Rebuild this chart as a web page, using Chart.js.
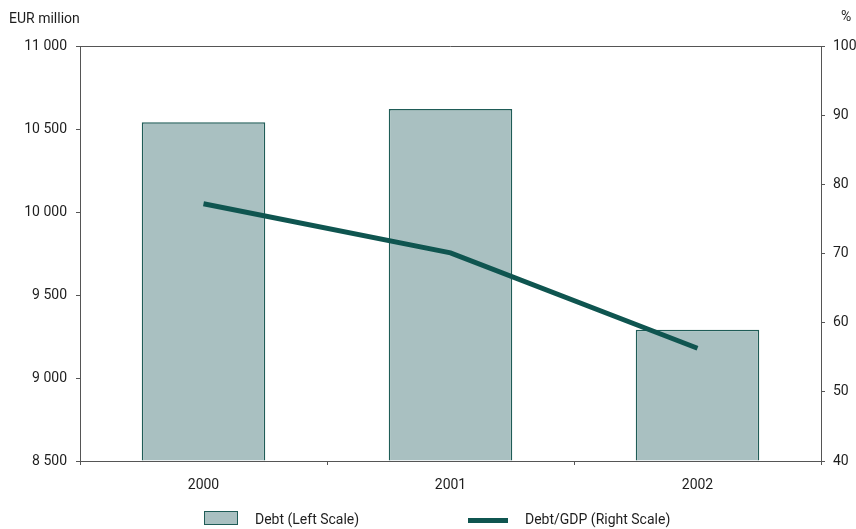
<!DOCTYPE html>
<html>
<head>
<meta charset="utf-8">
<script src="https://cdn.jsdelivr.net/npm/chart.js@4/dist/chart.umd.min.js"></script>
<style>
  html,body{margin:0;padding:0;background:#fff;}
  #wrap{position:relative;width:856px;height:529px;font-family:Roboto,"Liberation Sans",sans-serif;color:#1e1e1e;font-size:14px;}
  #c{position:absolute;left:0;top:0;}
  .lbl{position:absolute;white-space:nowrap;line-height:16px;}
  .sw-bar{position:absolute;left:204px;top:511px;width:32px;height:12px;background:#a9c0c1;border:1px solid #1f5c57;}
  .sw-line{position:absolute;left:468px;top:518px;width:40px;height:5px;background:#0f5550;}
</style>
</head>
<body>
<div id="wrap">
  <canvas id="c" width="856" height="529"></canvas>
  <div class="lbl" style="left:9px;top:10px;">EUR million</div>
  <div class="lbl" style="left:841px;top:8px;">%</div>
  <div class="sw-bar"></div>
  <div class="lbl" style="left:255px;top:511px;">Debt (Left Scale)</div>
  <div class="sw-line"></div>
  <div class="lbl" style="left:525px;top:511px;">Debt/GDP (Right Scale)</div>
</div>
<script>
// years, debt level (EUR million) and debt-to-GDP ratio (%)
const years = ['2000', '2001', '2002'];
const debt = [10540, 10620, 9290];
const debtGdp = [77.2, 70.1, 56.3];

const AXIS = '#555';
const FONT = {family: 'Roboto,"Liberation Sans",sans-serif', size: 14};
const spaced = v => String(v).replace(/\B(?=(\d{3})+(?!\d))/g, ' ');

// top edge of the plot box
const boxTop = {
  id: 'boxTop',
  afterDraw(ch) {
    const a = ch.chartArea, c = ch.ctx;
    c.save();
    c.strokeStyle = AXIS; c.lineWidth = 1;
    c.beginPath(); c.moveTo(a.left, a.top + 0.5); c.lineTo(a.right, a.top + 0.5); c.stroke();
    c.restore();
  }
};

new Chart(document.getElementById('c'), {
  data: {
    labels: years,
    datasets: [
      {type: 'line', label: 'Debt/GDP (Right Scale)', data: debtGdp, yAxisID: 'y2', order: 0,
       borderColor: '#0f5550', borderWidth: 5, pointRadius: 0, tension: 0, borderCapStyle: 'butt'},
      {type: 'bar', label: 'Debt (Left Scale)', data: debt, yAxisID: 'y', order: 1,
       backgroundColor: '#a9c0c1', borderColor: '#1f5c57', borderWidth: 1.5,
       barPercentage: 0.5, categoryPercentage: 1, base: 8500}
    ]
  },
  options: {
    responsive: false, animation: false,
    layout: {padding: {top: 46, bottom: 28, left: 0, right: 0}},
    plugins: {legend: {display: false}, tooltip: {enabled: false}},
    scales: {
      x: {
        grid: {drawOnChartArea: false, tickLength: 4, color: AXIS, offset: true},
        border: {color: AXIS},
        ticks: {color: '#1e1e1e', font: FONT, padding: 12},
        afterFit: s => { s.height = 40; }
      },
      y: {
        position: 'left', min: 8500, max: 11000,
        grid: {drawOnChartArea: false, tickLength: 4, color: AXIS},
        border: {color: AXIS},
        ticks: {stepSize: 500, color: '#1e1e1e', font: FONT, padding: 9, callback: v => spaced(v)},
        afterFit: s => { s.width = 80; }
      },
      y2: {
        position: 'right', min: 40, max: 100,
        grid: {drawOnChartArea: false, tickLength: 4, color: AXIS},
        border: {color: AXIS},
        ticks: {stepSize: 10, color: '#1e1e1e', font: FONT, padding: 8},
        afterFit: s => { s.width = 35; }
      }
    }
  },
  plugins: [boxTop]
});
</script>
</body>
</html>
